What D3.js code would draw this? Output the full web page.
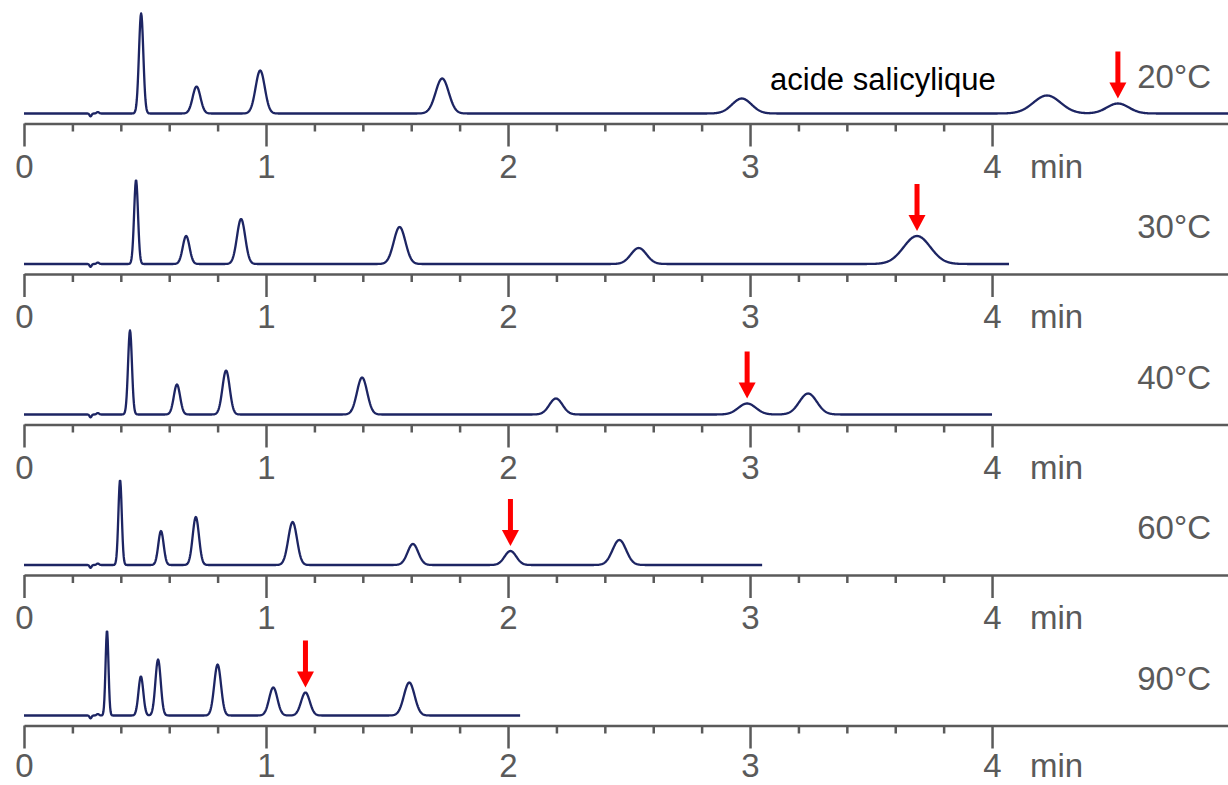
<!DOCTYPE html>
<html lang="fr">
<head>
<meta charset="UTF-8">
<title>Chromatogrammes – effet de la température</title>
<script src="https://cdn.jsdelivr.net/npm/d3@7/dist/d3.min.js"></script>
<style>
  html, body { margin: 0; padding: 0; background: #fff; }
  svg { display: block; }
  .trace { fill: none; stroke: #1d2563; stroke-width: 2.3px; stroke-linejoin: round; }
  .axis path, .axis line { stroke: #5a5a5a; stroke-width: 2.5px; }
  .axis text { fill: #5a5a5a; font: 33px "Liberation Sans", Arial, sans-serif; }
  .temp { fill: #5a5a5a; font: 33px "Liberation Sans", Arial, sans-serif; }
  .note { fill: #000; font: 31px "Liberation Sans", Arial, sans-serif; }
</style>
</head>
<body>
<div id="chart"></div>
<script>
// températures des 5 chromatogrammes
const temperatures = ["20°C", "30°C", "40°C", "60°C", "90°C"];
// fin d'enregistrement de chaque trace (min)
const runEnd = [4.975, 4.07, 4.0, 3.05, 2.05];
// pics : temps de rétention (min), hauteur (u.a.), largeur sigma (min)
// les deux premiers de chaque liste = petite perturbation d'injection
const peakTimes = [
  [0.275, 0.305, 0.484, 0.713, 0.976, 1.728, 2.966, 4.227, 4.52],
  [0.275, 0.305, 0.463, 0.670, 0.897, 1.552, 2.540, 3.690],
  [0.275, 0.305, 0.438, 0.632, 0.835, 1.397, 2.198, 2.988, 3.240],
  [0.275, 0.305, 0.397, 0.566, 0.710, 1.110, 1.607, 2.010, 2.460],
  [0.275, 0.305, 0.343, 0.483, 0.554, 0.800, 1.030, 1.163, 1.592]
];
const peakHeights = [
  [-3, 1.5, 100, 27, 43, 35, 15, 18, 10],
  [-3, 1.5, 84, 28, 45, 37, 16, 28],
  [-3, 1.5, 84, 30, 44, 37, 16, 11, 21],
  [-3, 1.5, 85, 34, 48, 43, 21, 14, 25],
  [-3, 1.5, 85, 39, 56, 51, 28, 23, 33]
];
const peakWidths = [
  [0.004, 0.005, 0.009, 0.016, 0.019, 0.027, 0.040, 0.056, 0.045],
  [0.004, 0.005, 0.008, 0.014, 0.017, 0.024, 0.032, 0.055],
  [0.004, 0.005, 0.008, 0.013, 0.015, 0.021, 0.027, 0.036, 0.036],
  [0.004, 0.005, 0.007, 0.011, 0.013, 0.018, 0.022, 0.024, 0.028],
  [0.004, 0.005, 0.006, 0.010, 0.011, 0.014, 0.017, 0.018, 0.022]
];
// pic de l'acide salicylique (flèche rouge)
const arrowTimes = [4.52, 3.690, 2.988, 2.010, 1.163];
const majorTicks = [0, 1, 2, 3, 4];
const minorTicks = d3.range(1, 20).filter(i => i % 5 !== 0).map(i => i / 5);

const width = 1228, height = 785;
const svg = d3.select("#chart").append("svg")
  .attr("width", width).attr("height", height);

const x = d3.scaleLinear().domain([0, 4.975]).range([24, 1228]);

function signal(t, i) {
  let s = 0;
  peakTimes[i].forEach((rt, k) => {
    const w = peakWidths[i][k];
    s += peakHeights[i][k] * Math.exp(-0.5 * ((t - rt) / w) ** 2);
  });
  return s;
}

temperatures.forEach((temp, i) => {
  const axisY = 123.5 + i * 150.5;
  const base = axisY - 10;
  const y = d3.scaleLinear().domain([0, 100]).range([base, base - 100]);
  const g = svg.append("g");

  // trace
  const ts = d3.range(0, runEnd[i], 0.002).concat([runEnd[i]]);
  const line = d3.line().x(t => x(t)).y(t => y(signal(t, i)));
  g.append("path").attr("class", "trace").attr("d", line(ts));

  // axe : graduations mineures puis majeures
  g.append("g").attr("class", "axis")
    .attr("transform", `translate(0,${axisY})`)
    .call(d3.axisBottom(x).tickValues(minorTicks).tickSize(8).tickSizeOuter(0).tickFormat(""));
  const ax = g.append("g").attr("class", "axis")
    .attr("transform", `translate(0,${axisY})`)
    .call(d3.axisBottom(x).tickValues(majorTicks).tickSize(23).tickSizeOuter(0).tickFormat(d3.format("d")));
  ax.select(".domain").remove();
  const labelY = i === temperatures.length - 1 ? 51 : 54;
  ax.selectAll("text").attr("dy", null).attr("y", labelY);
  g.append("text").attr("class", "temp")
    .attr("x", 1030).attr("y", axisY + labelY).text("min");

  // température
  g.append("text").attr("class", "temp")
    .attr("text-anchor", "end")
    .attr("x", 1211).attr("y", axisY - 36).text(temp);

  // flèche rouge
  const ta = arrowTimes[i];
  const tip = y(signal(ta, i)) - 5;
  const ax0 = x(ta);
  g.append("rect").attr("x", ax0 - 2.5).attr("y", tip - 47)
    .attr("width", 5).attr("height", 33).attr("fill", "#f00");
  g.append("path").attr("fill", "#f00")
    .attr("d", `M${ax0 - 8.5},${tip - 16}L${ax0 + 8.5},${tip - 16}L${ax0},${tip}Z`);
});

svg.append("text").attr("class", "note")
  .attr("x", 770).attr("y", 90).text("acide salicylique");
</script>
</body>
</html>
